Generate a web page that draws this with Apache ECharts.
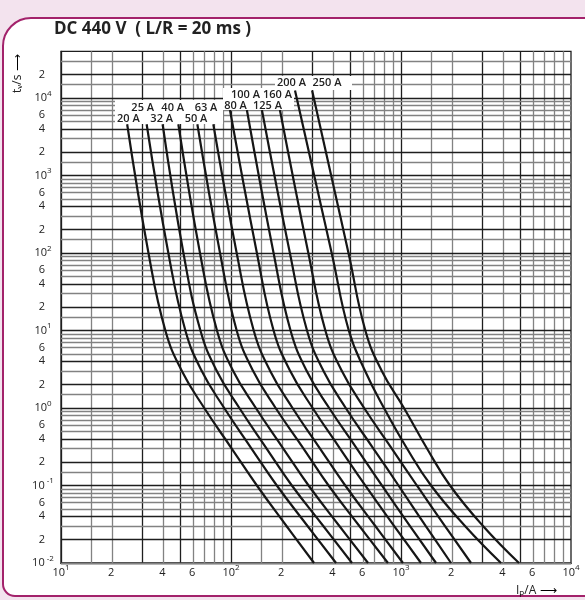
<!DOCTYPE html>
<html><head><meta charset="utf-8">
<script src="https://cdn.jsdelivr.net/npm/echarts@6/dist/echarts.min.js"></script>
<style>html,body{margin:0;padding:0;background:#f3e3ee;} #c{width:585px;height:600px;}</style>
</head><body><div id="c"></div>
<script>
// ---- data ----
const ratings = ['20 A','25 A','32 A','40 A','50 A','63 A','80 A','100 A','125 A','160 A','200 A','250 A'];
// pre-arcing times (s) at the read points; first value = upper end of each curve
const tLow  = [4580, 100, 10, 3, 1, 0.3, 0.1, 0.03, 0.01];
const tMid  = [7000, 100, 10, 3, 1, 0.3, 0.1, 0.03, 0.01];
const tHigh = [12500, 100, 10, 3, 1, 0.3, 0.1, 0.03, 0.01];
// prospective current (A) at those times
const i20  = [24.5, 32.7, 41.1, 51.4, 69.6, 101, 142, 212, 308];
const i25  = [31.9, 42.8, 53.9, 67.3, 91.2, 132, 186, 282, 415];
const i32  = [39.6, 52.5, 66.1, 82.5, 112, 162, 228, 349, 515];
const i40  = [49.0, 65.7, 82.7, 103, 140, 203, 286, 434, 640];
const i50  = [63.4, 86.2, 108, 135, 183, 267, 375, 569, 838];
const i63  = [78.7, 108, 136, 170, 230, 334, 470, 706, 1027];
const i80  = [98.6, 142, 178, 223, 302, 438, 616, 912, 1311];
const i100 = [124, 178, 224, 279, 378, 550, 772, 1130, 1607];
const i125 = [152, 222, 280, 350, 473, 688, 967, 1399, 1969];
const i160 = [194, 285, 359, 449, 607, 883, 1240, 1815, 2581];
const i200 = [238, 391, 493, 615, 794, 1085, 1502, 2380, 3874];
const i250 = [300, 491, 617, 771, 1041, 1422, 1942, 3037, 4944];
// tick labels
const xLabelValues = [10,20,40,60,100,200,400,600,1000,2000,4000,6000,10000];
const yLabelValues = [0.01,0.02,0.04,0.06,0.1,0.2,0.4,0.6,1,2,4,6,10,20,40,60,100,200,400,600,1000,2000,4000,6000,10000,20000];
const gridMantissas = [1,1.5,2,3,4,5,6,7,8,9];
const darkX = [1,3,5];
const darkY = [1,2,4];

const curves = [i20,i25,i32,i40,i50,i63,i80,i100,i125,i160,i200,i250];
const curveTimes = [tLow,tLow,tLow,tLow,tLow,tLow,tMid,tMid,tMid,tMid,tHigh,tHigh];

const DARK='#1e1e1e', GRAY='#828282';
function gridLines(minExp, maxExp, maxVal, key, dark){
  const out=[];
  for(let e=minExp;e<=maxExp;e++){
    gridMantissas.forEach(m=>{
      const v=Number((m*Math.pow(10,e)).toPrecision(3));
      if(v<maxVal && !(e===minExp && m===1)){
        const o={lineStyle:{color:dark.indexOf(m)>=0?DARK:GRAY,width:1.3,type:'solid'}};
        o[key]=v; out.push(o);
      }
    });
  }
  return out;
}
const gridData = gridLines(1,4,10000,'xAxis',darkX).concat(gridLines(-2,4,40000,'yAxis',darkY));

function fmt(v){
  const e=Math.floor(Math.log10(v)+1e-9);
  const m=Math.round(v/Math.pow(10,e));
  if(m===1) return '{b|10}{s|'+(e<0?' '+e:e)+'}';
  return '{b|'+m+'}{s| }';
}
const rich = {
  b:{fontSize:11,fontFamily:'Open Sans',color:'#222',lineHeight:11,verticalAlign:'bottom'},
  s:{fontSize:8,fontFamily:'Open Sans',color:'#222',lineHeight:14,verticalAlign:'top'}
};

const series = curves.map((arr,k)=>({
  type:'line', name:ratings[k], showSymbol:false, smooth:0.45,
  data: arr.map((c,j)=>[c, curveTimes[k][j]]),
  lineStyle:{color:'#161616',width:2.2}, z:5, silent:true
}));
series.push({type:'line',data:[],z:2,silent:true,
  markLine:{silent:true,symbol:['none','none'],label:{show:false},animation:false,data:gridData}});

const labelFont = '600 11px "Open Sans"';
function lab(text,x,y){return {type:'text',x:x,y:y,z:101,style:{text:text,font:labelFont,fill:'#222',align:'center',verticalAlign:'middle'}};}

const chart = echarts.init(document.getElementById('c'),null,{renderer:'canvas'});
chart.setOption({
  animation:false,
  backgroundColor:'transparent',
  grid:{left:61,right:14,top:51.3,bottom:37,show:true,borderColor:'#1e1e1e',borderWidth:1.3,backgroundColor:'transparent'},
  xAxis:{type:'log',logBase:10,min:10,max:10000,
    axisLine:{show:true,lineStyle:{color:'#1e1e1e',width:1.3}},
    axisTick:{show:false},
    splitLine:{show:false},
    axisLabel:{customValues:xLabelValues,formatter:fmt,rich:rich,margin:1}
  },
  yAxis:{type:'log',logBase:10,min:0.01,max:40000,
    axisLine:{show:true,lineStyle:{color:'#1e1e1e',width:1.3}},
    axisTick:{show:false},
    splitLine:{show:false},
    axisLabel:{customValues:yLabelValues,formatter:fmt,rich:rich,margin:18,align:'center',padding:[0,0,3,0]}
  },
  series:series,
  graphic:[
    {type:'rect',z:-10,shape:{x:3,y:18,width:620,height:578,r:[28,0,0,12]},style:{fill:'#fff',stroke:'#a3226b',lineWidth:2}},
    {type:'text',x:54,y:29,z:101,style:{text:'DC 440 V  ( L/R = 20 ms )',font:'bold 17px "Open Sans"',fill:'#222',verticalAlign:'middle'}},
    // label boxes
    {type:'rect',z:100,shape:{x:115,y:100,width:108,height:24},style:{fill:'#fff'}},
    {type:'rect',z:100,shape:{x:223,y:88,width:71,height:22},style:{fill:'#fff'}},
    {type:'rect',z:100,shape:{x:275,y:76,width:77,height:14},style:{fill:'#fff'}},
    lab('20 A',128.3,119), lab('32 A',161.7,119), lab('50 A',196,119),
    lab('25 A',142.7,107.5), lab('40 A',172.7,107.5), lab('63 A',206,107.5), lab('80 A',235.5,106), lab('125 A',267.5,106),
    lab('100 A',245.5,94.5), lab('160 A',277.5,94.5),
    lab('200 A',291.5,82.5), lab('250 A',327,82.5),
    // axis names
    {type:'text',x:18,y:93,rotation:Math.PI/2,z:101,style:{text:'{t|t}{v|v}{t|/s} ⟶',rich:{t:{fontSize:12,fontFamily:'Open Sans',fill:'#222'},v:{fontSize:8,fontFamily:'Open Sans',verticalAlign:'bottom',lineHeight:10,padding:[6,0,0,0]}},verticalAlign:'middle',align:'left'}},
    {type:'text',x:516,y:591,z:101,style:{text:'{t|I}{v|p}{t|/A} ⟶',rich:{t:{fontSize:12,fontFamily:'Open Sans',fill:'#222'},v:{fontSize:8,fontFamily:'Open Sans',verticalAlign:'bottom',lineHeight:10,padding:[6,0,0,0]}},verticalAlign:'middle',align:'left'}}
  ]
});
</script></body></html>
